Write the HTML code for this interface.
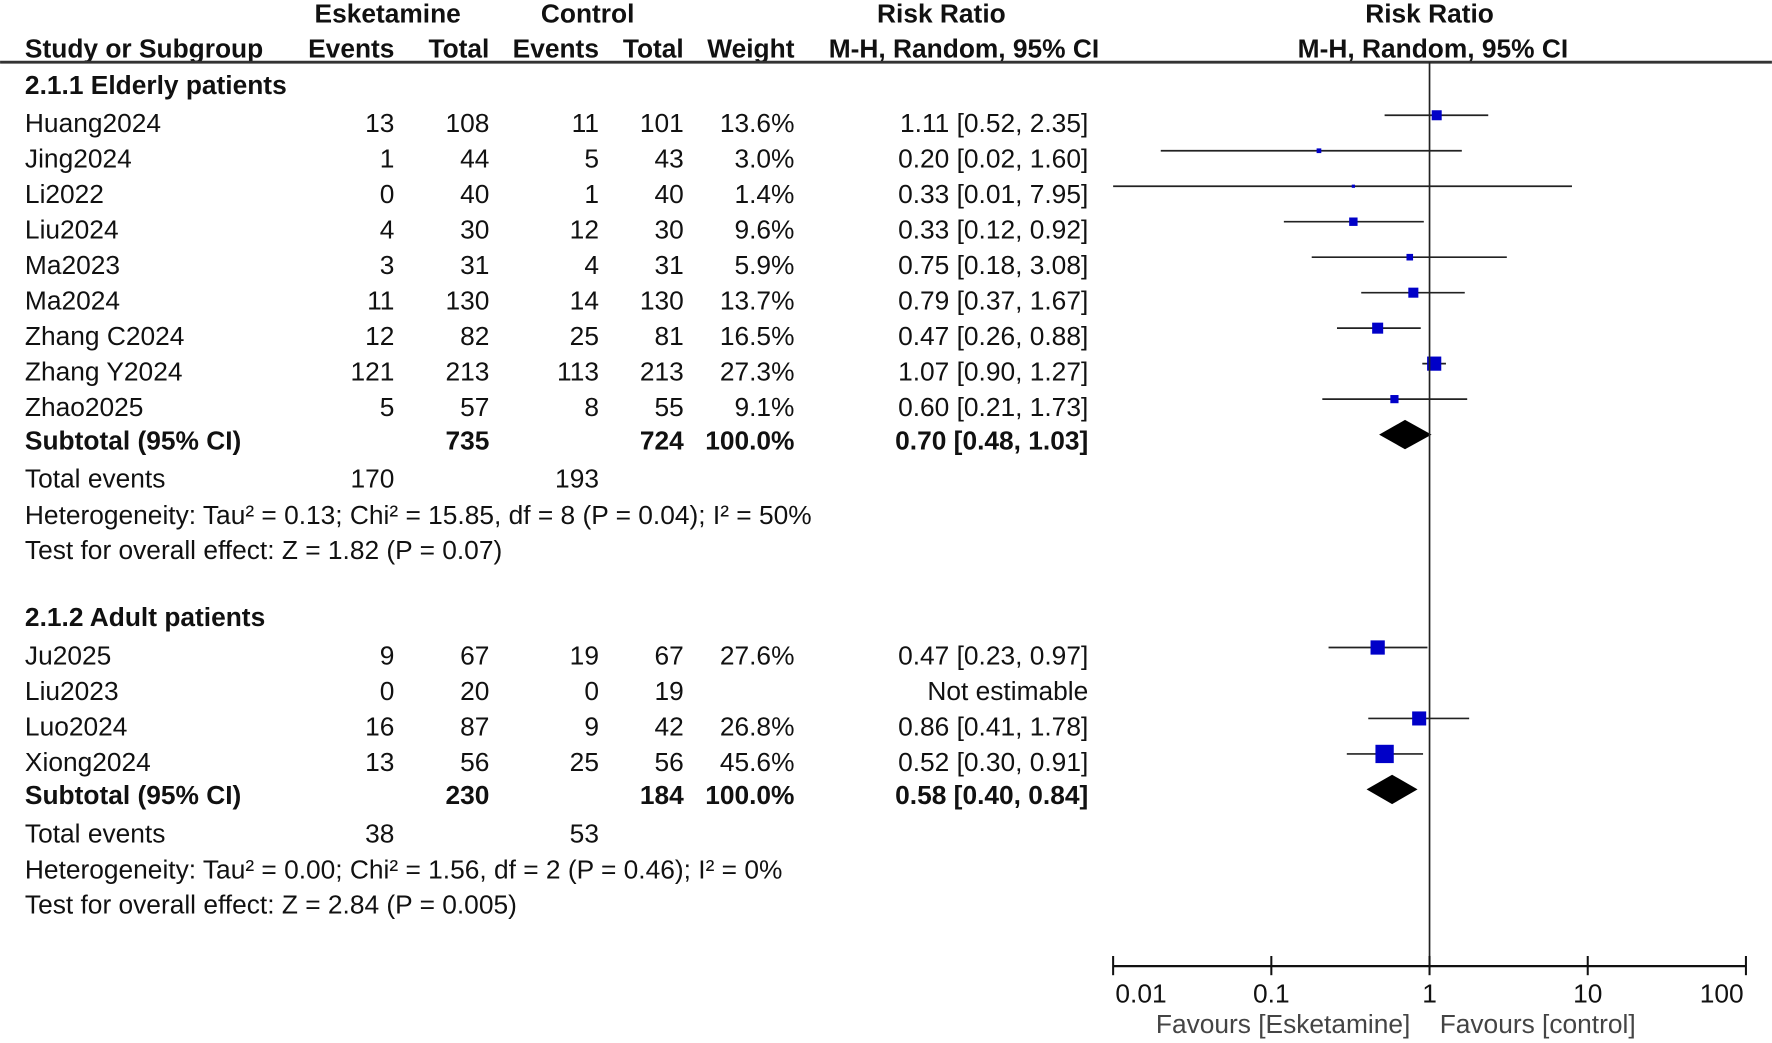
<!DOCTYPE html>
<html><head><meta charset="utf-8"><style>
html,body{margin:0;padding:0;background:#fff;}
svg{display:block;}
text{font-family:"Liberation Sans",Arial,sans-serif;font-size:23.3px;fill:#111;}
.b{font-weight:bold;}
</style></head><body>
<svg width="1772" height="1043" viewBox="0 0 1568 923" xmlns="http://www.w3.org/2000/svg">
<g id="hdr">
<text class="b" x="343" y="20" text-anchor="middle">Esketamine</text>
<text class="b" x="520" y="20" text-anchor="middle">Control</text>
<text class="b" x="833" y="20" text-anchor="middle">Risk Ratio</text>
<text class="b" x="1265" y="20" text-anchor="middle">Risk Ratio</text>
<text class="b" x="22" y="51">Study or Subgroup</text>
<text class="b" x="349" y="51" text-anchor="end">Events</text>
<text class="b" x="433" y="51" text-anchor="end">Total</text>
<text class="b" x="530" y="51" text-anchor="end">Events</text>
<text class="b" x="605" y="51" text-anchor="end">Total</text>
<text class="b" x="703" y="51" text-anchor="end">Weight</text>
<text class="b" x="853" y="51" text-anchor="middle">M-H, Random, 95% CI</text>
<text class="b" x="1268" y="51" text-anchor="middle">M-H, Random, 95% CI</text>
<line x1="0" y1="55" x2="1568" y2="55" stroke="#333" stroke-width="2.5"/>
</g>
<g id="tbl"></g>
<g id="plot"></g>
</svg>
<script>
const studies=["Huang2024","Jing2024","Li2022","Liu2024","Ma2023","Ma2024","Zhang C2024","Zhang Y2024","Zhao2025","Ju2025","Liu2023","Luo2024","Xiong2024"];
const group=[1,1,1,1,1,1,1,1,1,2,2,2,2];
const eskEvents=[13,1,0,4,3,11,12,121,5,9,0,16,13];
const eskTotal=[108,44,40,30,31,130,82,213,57,67,20,87,56];
const ctlEvents=[11,5,1,12,4,14,25,113,8,19,0,9,25];
const ctlTotal=[101,43,40,30,31,130,81,213,55,67,19,42,56];
const weights=[13.6,3.0,1.4,9.6,5.9,13.7,16.5,27.3,9.1,27.6,null,26.8,45.6];
const rr=[1.11,0.20,0.33,0.33,0.75,0.79,0.47,1.07,0.60,0.47,null,0.86,0.52];
const lo=[0.52,0.02,0.01,0.12,0.18,0.37,0.26,0.90,0.21,0.23,null,0.41,0.30];
const hi=[2.35,1.60,7.95,0.92,3.08,1.67,0.88,1.27,1.73,0.97,null,1.78,0.91];
const subRR=[0.70,0.58],subLo=[0.48,0.40],subHi=[1.03,0.84];
const subEsk=[735,230],subCtl=[724,184],totEsk=[170,38],totCtl=[193,53];
const hetText=["Heterogeneity: Tau² = 0.13; Chi² = 15.85, df = 8 (P = 0.04); I² = 50%","Heterogeneity: Tau² = 0.00; Chi² = 1.56, df = 2 (P = 0.46); I² = 0%"];
const zText=["Test for overall effect: Z = 1.82 (P = 0.07)","Test for overall effect: Z = 2.84 (P = 0.005)"];
const groupTitles=["2.1.1 Elderly patients","2.1.2 Adult patients"];
const ticks=[0.01,0.1,1,10,100];
const tickLabels=["0.01","0.1","1","10","100"];

const NS="http://www.w3.org/2000/svg";
const tbl=document.getElementById('tbl'),plot=document.getElementById('plot');
const X=v=>1265+Math.log10(v)*140;
function el(p,tag,attrs,txt){const e=document.createElementNS(NS,tag);for(const k in attrs)e.setAttribute(k,attrs[k]);if(txt!=null)e.textContent=txt;p.appendChild(e);return e;}
function t(x,y,s,anchor,bold){const e=el(tbl,'text',{x:x,y:y+8,'text-anchor':anchor||'start'},s);if(bold)e.setAttribute('class','b');return e;}
const fmt=v=>v.toFixed(2);
const groupTop=[75,546];
for(let g=0;g<2;g++){
  const h=t(22,groupTop[g],groupTitles[g],'start',true);
  
  
  let y=groupTop[g]+34;
  const rows=[];for(let i=0;i<studies.length;i++)if(group[i]===g+1)rows.push(i);
  rows.forEach(i=>{
    const n=t(22,y,studies[i]);
    
    
    t(349,y,String(eskEvents[i]),'end');t(433,y,String(eskTotal[i]),'end');
    t(530,y,String(ctlEvents[i]),'end');t(605,y,String(ctlTotal[i]),'end');
    if(weights[i]!=null)t(703,y,weights[i].toFixed(1)+'%','end');
    if(rr[i]!=null){
      t(963,y,fmt(rr[i])+' ['+fmt(lo[i])+', '+fmt(hi[i])+']','end');
      const yc=y-7;
      const l=el(plot,'line',{x1:X(lo[i]),x2:X(hi[i]),y1:yc,y2:yc,stroke:'#222','stroke-width':1.5});
      
      
      const s=2.4*Math.sqrt(weights[i]);
      const r=el(plot,'rect',{x:X(rr[i])-s/2,y:yc-s/2,width:s,height:s,fill:'#0000c8'});
      
      
    } else t(963,y,'Not estimable','end');
    y+=31.4;
  });
  const sy=y-2;
  t(22,sy,'Subtotal (95% CI)','start',true);
  t(433,sy,String(subEsk[g]),'end',true);t(605,sy,String(subCtl[g]),'end',true);
  t(703,sy,'100.0%','end',true);
  t(963,sy,fmt(subRR[g])+' ['+fmt(subLo[g])+', '+fmt(subHi[g])+']','end',true);
  const dy=sy-5;
  const d=el(plot,'polygon',{points:`${X(subLo[g])},${dy} ${X(subRR[g])},${dy-13} ${X(subHi[g])},${dy} ${X(subRR[g])},${dy+13}`,fill:'#000'});
  
  
  t(22,sy+34,'Total events');t(349,sy+34,String(totEsk[g]),'end');t(530,sy+34,String(totCtl[g]),'end');
  t(22,sy+66,hetText[g]);t(22,sy+97,zText[g]);
}
const v=el(plot,'line',{x1:1265,x2:1265,y1:55,y2:855,stroke:'#222','stroke-width':1.5});


const ax=el(plot,'line',{x1:X(ticks[0]),x2:X(ticks[ticks.length-1]),y1:855,y2:855,stroke:'#111','stroke-width':2});


ticks.forEach((tk,i)=>{
  el(plot,'line',{x1:X(tk),x2:X(tk),y1:846,y2:863,stroke:'#111','stroke-width':1.8});
  const tl=el(plot,'text',{x:X(tk),y:887,'text-anchor':i===0?'start':(i===ticks.length-1?'end':'middle')},tickLabels[i]);
  if(i===0)tl.setAttribute('x',X(tk)+2);
  if(i===ticks.length-1)tl.setAttribute('x',X(tk)-2);
  
  
});
const f1=el(plot,'text',{x:1248,y:914,'text-anchor':'end',style:'fill:#444'},'Favours [Esketamine]');


const f2=el(plot,'text',{x:1274,y:914,style:'fill:#444'},'Favours [control]');


</script>
</body></html>
